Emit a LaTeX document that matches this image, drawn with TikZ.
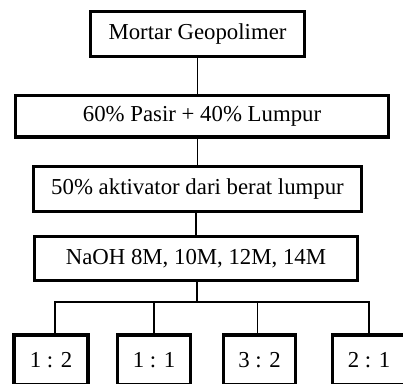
\documentclass[tikz,border=0pt]{standalone}
\usepackage{fontspec}
\setmainfont{Liberation Serif}
\begin{document}
\begin{tikzpicture}[x=1pt,y=-1pt,
	kotak/.style={draw,line width=3.5pt,inner sep=0pt,font=\fontsize{22.8}{27}\selectfont},
	garis/.style={line width=1.2pt}]
			\useasboundingbox(0,0) rectangle (403,383);
			\node[kotak,minimum width=214,minimum height=45](mortar) at(197.5,34){Mortar Geopolimer};
			\node[kotak,minimum width=373,minimum height=41.5](campuran) at(202,116){60\% Pasir + 40\% Lumpur};
			\node[kotak,minimum width=328,minimum height=45](aktivator) at(197.5,189){50\% aktivator dari berat lumpur};
			\node[kotak,minimum width=323,minimum height=44](naoh) at(196,258.5){NaOH 8M, 10M, 12M, 14M};
			\node[kotak,minimum width=74,minimum height=50](r12) at(51,360){1 : 2};
			\node[kotak,minimum width=73,minimum height=50](r11) at(154,360){1 : 1};
			\node[kotak,minimum width=72,minimum height=50](r32) at(259.5,360){3 : 2};
			\node[kotak,minimum width=73,minimum height=50](r21) at(369,360){2 : 1};
			\coordinate(bus) at(197,302);
			\draw[garis](mortar)--(mortar|-campuran.north);
			\draw[garis](campuran.south-|aktivator)--(aktivator);
			\draw[garis](aktivator.south-|naoh)--(naoh);
			\draw[garis](naoh.south-|bus)--(bus);
			\draw[garis](bus)-|([xshift=4pt]r12.north);
			\draw[garis](bus)-|(r11.north);
			\draw[garis](bus)-|([xshift=-2pt]r32.north);
			\draw[garis](bus)-|(r21.north);
			\end{tikzpicture}
\end{document}
